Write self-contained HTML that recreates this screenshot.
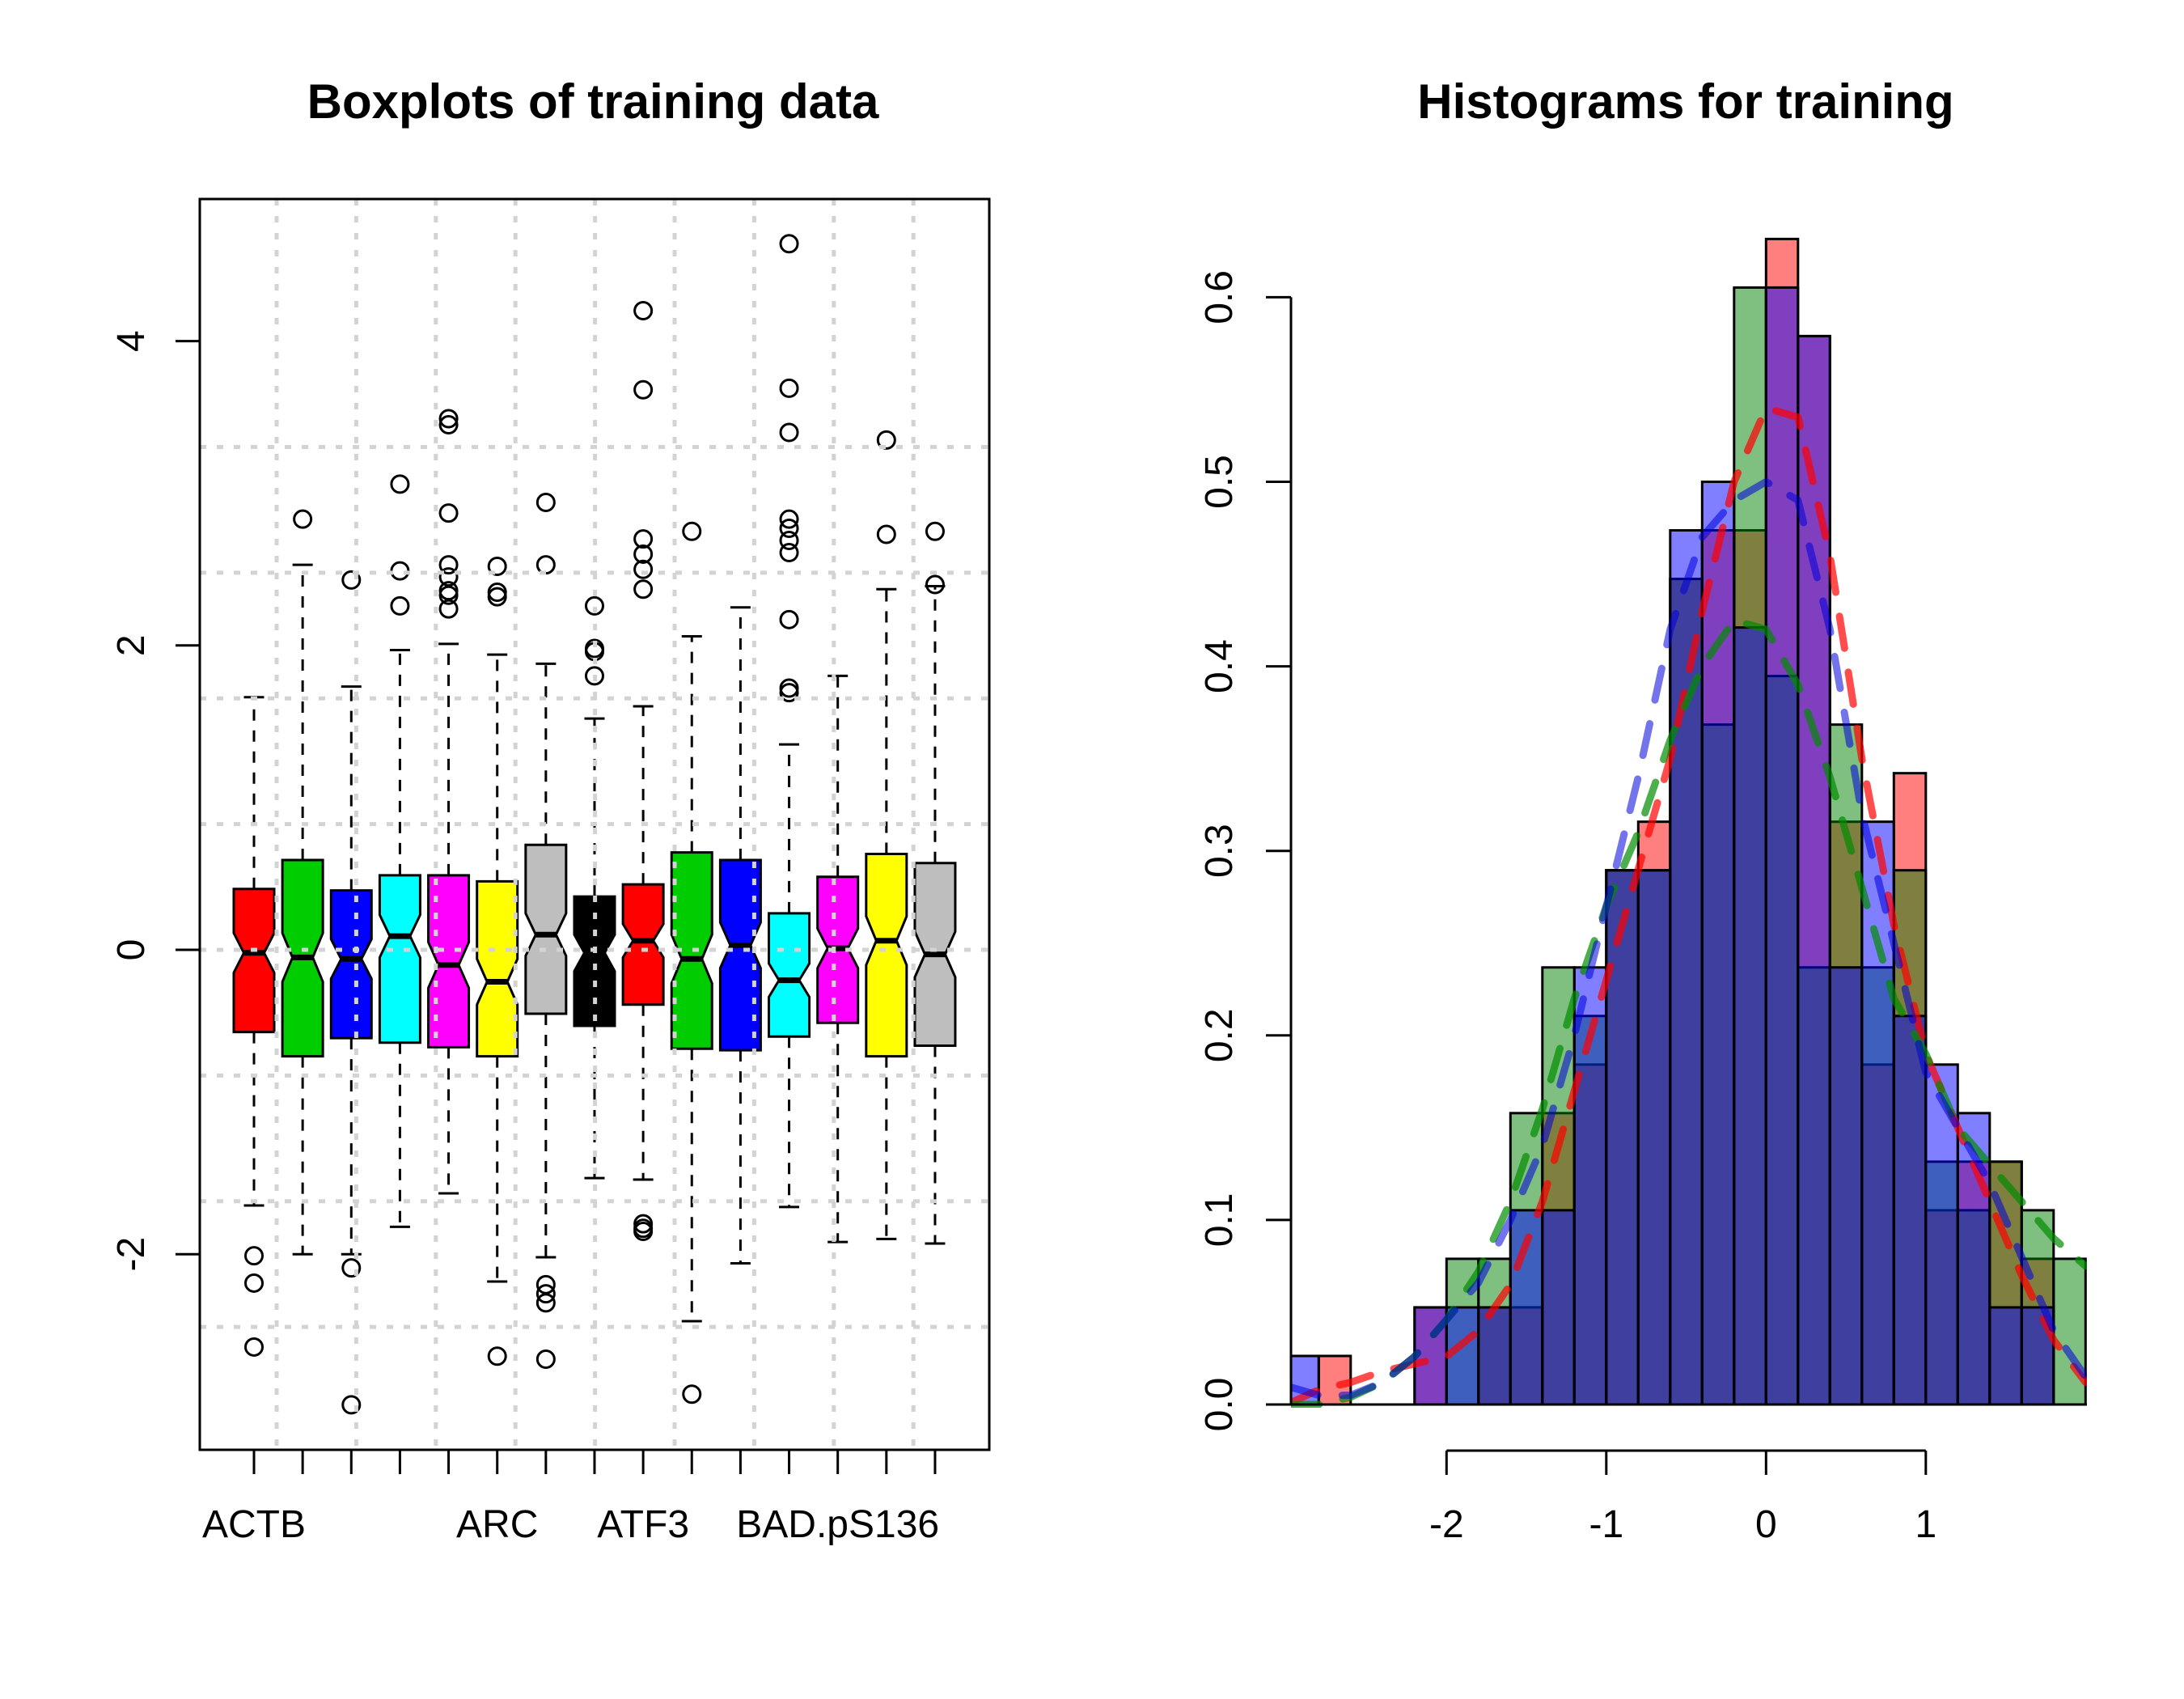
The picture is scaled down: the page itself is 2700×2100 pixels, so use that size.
<!DOCTYPE html>
<html><head><meta charset="utf-8">
<style>
html,body{margin:0;padding:0;background:#fff;}
svg{display:block;font-family:"Liberation Sans",Arial,sans-serif;}
</style></head>
<body>
<svg id="chart" width="2700" height="2100" viewBox="0 0 2700 2100" xmlns="http://www.w3.org/2000/svg">
  <rect x="0" y="0" width="2700" height="2100" fill="#fff"/>
  <text x="733" y="146" font-size="60" font-weight="bold" text-anchor="middle">Boxplots of training data</text>
  <text x="2084" y="146" font-size="60" font-weight="bold" text-anchor="middle">Histograms for training</text>
  <defs>
    <clipPath id="histClip"><rect x="1596" y="200" width="984" height="1540"/></clipPath>
    <clipPath id="boxClip"><rect x="247" y="246" width="976" height="1546"/></clipPath>
  </defs>
  <g id="left"></g>
  <g id="right"></g>
</svg>
<script>
// ---------- Boxplot data ----------
const boxColors = ["#FF0000","#00CD00","#0000FF","#00FFFF","#FF00FF","#FFFF00","#BEBEBE","#000000","#FF0000","#00CD00","#0000FF","#00FFFF","#FF00FF","#FFFF00","#BEBEBE"];
const q1 = [-0.54,-0.70,-0.58,-0.61,-0.64,-0.70,-0.42,-0.50,-0.36,-0.65,-0.66,-0.57,-0.48,-0.70,-0.63];
const med = [-0.02,-0.05,-0.06,0.09,-0.10,-0.21,0.10,-0.02,0.06,-0.06,0.03,-0.20,0.01,0.06,-0.03];
const q3 = [0.40,0.59,0.39,0.49,0.49,0.45,0.69,0.35,0.43,0.64,0.59,0.24,0.48,0.63,0.57];
const whiLo = [-1.68,-2.00,-2.00,-1.82,-1.60,-2.18,-2.02,-1.50,-1.51,-2.44,-2.06,-1.69,-1.92,-1.90,-1.93];
const whiHi = [1.66,2.53,1.73,1.97,2.01,1.94,1.88,1.52,1.60,2.06,2.25,1.35,1.80,2.37,2.39];
const notch = [0.13,0.16,0.13,0.14,0.15,0.15,0.14,0.12,0.11,0.16,0.15,0.11,0.13,0.16,0.15];
const outliers = [
  [-2.01,-2.19,-2.61],
  [2.83],
  [2.43,-2.09,-2.99],
  [3.06,2.49,2.26],
  [3.49,3.45,2.87,2.53,2.45,2.36,2.33,2.24],
  [2.52,2.35,2.32,-2.67],
  [2.94,2.53,-2.20,-2.26,-2.32,-2.69],
  [2.26,1.98,1.96,1.80],
  [4.20,3.68,2.70,2.60,2.50,2.37,-1.80,-1.83,-1.85],
  [2.75,-2.92],
  [],
  [4.64,3.69,3.40,2.83,2.77,2.69,2.61,2.17,1.72,1.69],
  [],
  [3.35,2.73],
  [2.75,2.40]
];
const boxTickLabels = ["ACTB","","","","","ARC","","","ATF3","","","","BAD.pS136","",""];
const yTicksL = [-2,0,2,4];

// ---------- Histogram data (densities in units of 1/38) ----------
const binStart = -3.0, binWidth = 0.2;
const histRed   = [0,1,0,0,2,0,2,2,6,7,11,12,17,18,18,24,22,12,7,13,4,5,5,3,0];
const histGreen = [0,0,0,0,0,3,3,6,9,8,11,11,17,14,23,15,9,14,9,11,5,4,5,4,3];
const histBlue  = [1,0,0,0,2,2,2,4,4,9,11,11,18,19,16,23,22,9,12,8,7,6,2,2,0];
const densUnit = 1/38;
const densX     = [-3.0,-2.8,-2.6,-2.4,-2.2,-2.0,-1.8,-1.6,-1.4,-1.2,-1.0,-0.8,-0.6,-0.4,-0.2,0,0.2,0.4,0.6,0.8,1.0,1.2,1.4,1.6,1.8,2.0];
const densRed   = [0.0,0.008,0.012,0.018,0.022,0.026,0.04,0.065,0.11,0.17,0.23,0.29,0.35,0.43,0.50,0.54,0.535,0.46,0.35,0.26,0.19,0.15,0.11,0.07,0.035,0.012];
const densGreen = [0.0,0.0,0.004,0.012,0.026,0.046,0.072,0.11,0.16,0.22,0.27,0.31,0.36,0.40,0.425,0.42,0.39,0.34,0.28,0.22,0.19,0.15,0.13,0.11,0.09,0.075];
const densBlue  = [0.01,0.005,0.005,0.012,0.026,0.046,0.066,0.10,0.14,0.20,0.27,0.34,0.42,0.47,0.49,0.50,0.49,0.42,0.32,0.25,0.18,0.15,0.12,0.08,0.04,0.015];
const xTicksR = [-2,-1,0,1];
const yTicksR = [0,0.1,0.2,0.3,0.4,0.5,0.6];

const NS = "http://www.w3.org/2000/svg";
function mk(parent, tag, attrs){ const e=document.createElementNS(NS,tag); for(const k in attrs) e.setAttribute(k,attrs[k]); parent.appendChild(e); return e; }

// ---------- Left panel ----------
const L = document.getElementById('left');
const FB = 1792; // frame bottom
const FR = 1223; // frame right
const xL = i => 314 + 60.14*i;
const yL = v => 1174 - 188.1*v;
const hw = 25;
for(let i=0;i<boxColors.length;i++){
  const xc = xL(i);
  let w = mk(L,'line',{x1:xc,x2:xc,y1:yL(q3[i]),y2:yL(whiHi[i]),stroke:'#000','stroke-width':3,'stroke-dasharray':'14 12'});
  
  
  let w2 = mk(L,'line',{x1:xc,x2:xc,y1:yL(q1[i]),y2:yL(whiLo[i]),stroke:'#000','stroke-width':3,'stroke-dasharray':'14 12'});
  
  
  let c1 = mk(L,'line',{x1:xc-12.5,x2:xc+12.5,y1:yL(whiHi[i]),y2:yL(whiHi[i]),stroke:'#000','stroke-width':3});
  
  
  let c2 = mk(L,'line',{x1:xc-12.5,x2:xc+12.5,y1:yL(whiLo[i]),y2:yL(whiLo[i]),stroke:'#000','stroke-width':3});
  
  
  const nt = med[i]+notch[i], nb = med[i]-notch[i];
  const pts = [[xc-hw,yL(q3[i])],[xc+hw,yL(q3[i])],[xc+hw,yL(nt)],[xc+hw/2,yL(med[i])],[xc+hw,yL(nb)],[xc+hw,yL(q1[i])],[xc-hw,yL(q1[i])],[xc-hw,yL(nb)],[xc-hw/2,yL(med[i])],[xc-hw,yL(nt)]];
  let b = mk(L,'polygon',{points:pts.map(p=>p.join(',')).join(' '),fill:boxColors[i],stroke:'#000','stroke-width':3});
  
  
  let m = mk(L,'line',{x1:xc-hw/2,x2:xc+hw/2,y1:yL(med[i]),y2:yL(med[i]),stroke:'#000','stroke-width':7});
  
  
  for(const o of outliers[i]){
    let c = mk(L,'circle',{cx:xc,cy:yL(o),r:10.5,fill:'none',stroke:'#000','stroke-width':3});
    
    
  }
}
// grid (drawn over boxes)
const gridG = mk(L,'g',{'clip-path':'url(#boxClip)'});
for(let k=0;k<9;k++){
  const x = 342 + 98.4*k;
  let g = mk(gridG,'line',{x1:x,x2:x,y1:246,y2:FB,stroke:'#D3D3D3','stroke-width':5,'stroke-dasharray':'8 13'});
  
  
}
for(let k=-3;k<=4;k++){
  const y = yL(0.826*k);
  let g = mk(gridG,'line',{x1:247,x2:FR,y1:y,y2:y,stroke:'#D3D3D3','stroke-width':5,'stroke-dasharray':'8 13'});
  
  
}
let frame = mk(L,'rect',{x:247,y:246,width:FR-247,height:FB-246,fill:'none',stroke:'#000','stroke-width':3});


for(const t of yTicksL){
  let tl = mk(L,'line',{x1:217,x2:247,y1:yL(t),y2:yL(t),stroke:'#000','stroke-width':3});
  
  
  let tx = mk(L,'text',{x:0,y:0,'font-size':48,'text-anchor':'middle',transform:`translate(178,${yL(t)}) rotate(-90)`});
  tx.textContent = String(t);
  
  
}
for(let i=0;i<boxColors.length;i++){
  let tl = mk(L,'line',{x1:xL(i),x2:xL(i),y1:FB,y2:FB+30,stroke:'#000','stroke-width':3});
  
  
  if(boxTickLabels[i]){
    let tx = mk(L,'text',{x:xL(i),y:1900,'font-size':48,'text-anchor':'middle'});
    tx.textContent = boxTickLabels[i];
    
    
  }
}

// ---------- Right panel ----------
const R = document.getElementById('right');
const xR = v => 2183.3 + 197.5*v;
const yR = d => 1736 - 2281*d;
const hg = mk(R,'g',{'clip-path':'url(#histClip)'});
function drawHist(arr, fill, name){
  for(let i=0;i<arr.length;i++){
    const x0 = xR(binStart + binWidth*i), x1 = xR(binStart + binWidth*(i+1));
    const y = yR(arr[i]*densUnit);
    let r = mk(hg,'rect',{x:x0,y:y,width:x1-x0,height:1736-y,fill:fill,stroke:'#000','stroke-width':3});
    
    
  }
}
drawHist(histRed,'rgba(255,0,0,0.5)','hist-bar-red');
drawHist(histGreen,'rgba(0,128,0,0.5)','hist-bar-green');
drawHist(histBlue,'rgba(0,0,255,0.5)','hist-bar-blue');
function drawDens(arr, color, name){
  const d = densX.map((x,i)=>(i?'L':'M')+xR(x).toFixed(1)+','+yR(arr[i]).toFixed(1)).join(' ');
  let p = mk(hg,'path',{d:d,fill:'none',stroke:color,'stroke-width':9,'stroke-dasharray':'40 30','stroke-linecap':'round','stroke-linejoin':'round'});
  
  
}
drawDens(densRed,'rgba(255,0,0,0.7)','density-line-red');
drawDens(densGreen,'rgba(0,140,0,0.7)','density-line-green');
drawDens(densBlue,'rgba(0,0,220,0.55)','density-line-blue');
let base = mk(R,'line',{x1:1596,x2:2580,y1:1736,y2:1736,stroke:'#000','stroke-width':3});


let ya = mk(R,'line',{x1:1596,x2:1596,y1:yR(0)+1.5,y2:yR(0.6),stroke:'#000','stroke-width':3});


for(const t of yTicksR){
  let tl = mk(R,'line',{x1:1565,x2:1596,y1:yR(t),y2:yR(t),stroke:'#000','stroke-width':3});
  
  
  let tx = mk(R,'text',{x:0,y:0,'font-size':48,'text-anchor':'middle',transform:`translate(1523,${yR(t)}) rotate(-90)`});
  tx.textContent = t.toFixed(1);
  
  
}
let xa = mk(R,'line',{x1:xR(xTicksR[0]),x2:xR(xTicksR[xTicksR.length-1]),y1:1793,y2:1793,stroke:'#000','stroke-width':3});


for(const t of xTicksR){
  let tl = mk(R,'line',{x1:xR(t),x2:xR(t),y1:1793,y2:1823,stroke:'#000','stroke-width':3});
  
  
  let tx = mk(R,'text',{x:xR(t),y:1900,'font-size':48,'text-anchor':'middle'});
  tx.textContent = String(t);
  
  
}
</script>
</body></html>
